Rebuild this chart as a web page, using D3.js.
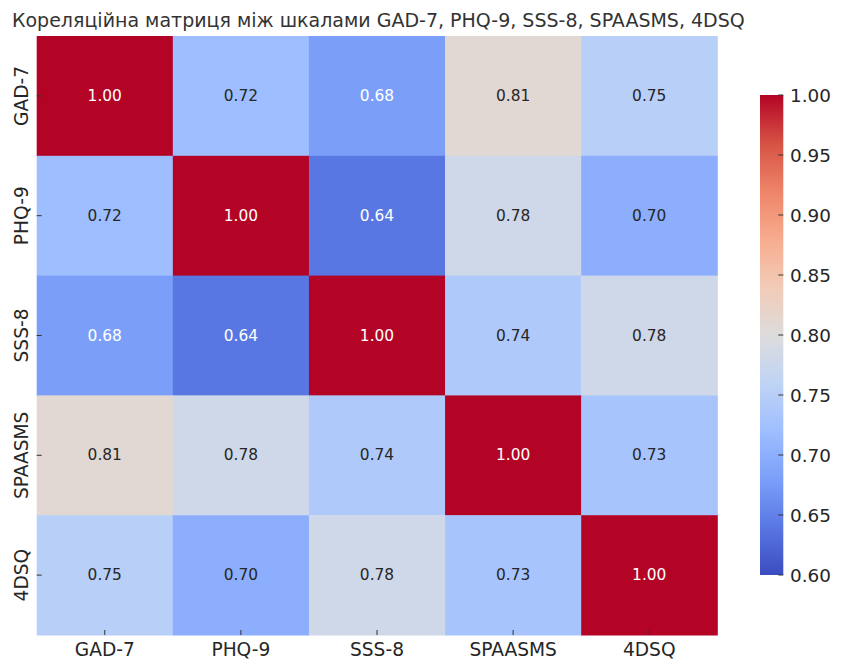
<!DOCTYPE html>
<html>
<head>
<meta charset="utf-8">
<script src="https://cdn.jsdelivr.net/npm/d3@7"></script>
<style>
  body { margin: 0; background: #fff; }
  svg { display: block; font-family: "DejaVu Sans", sans-serif; }
</style>
</head>
<body>
<svg id="chart" width="843" height="671"></svg>
<script>
const title = "Кореляційна матриця між шкалами GAD-7, PHQ-9, SSS-8, SPAASMS, 4DSQ";
const scales = ["GAD-7", "PHQ-9", "SSS-8", "SPAASMS", "4DSQ"];
const rowGAD7   = [1.00, 0.72, 0.68, 0.81, 0.75];
const rowPHQ9   = [0.72, 1.00, 0.64, 0.78, 0.70];
const rowSSS8   = [0.68, 0.64, 1.00, 0.74, 0.78];
const rowSPAASMS= [0.81, 0.78, 0.74, 1.00, 0.73];
const row4DSQ   = [0.75, 0.70, 0.78, 0.73, 1.00];
const matrix = [rowGAD7, rowPHQ9, rowSSS8, rowSPAASMS, row4DSQ];
const colorTicks = [0.60, 0.65, 0.70, 0.75, 0.80, 0.85, 0.90, 0.95, 1.00];
const vmin = 0.6, vmax = 1.0;

// coolwarm colormap samples at 0,0.1,...,1
const coolwarm = ['#3b4cc0','#5977e3','#7b9ff9','#9ebeff','#c0d4f5','#dddcdc','#f2cbb7','#f7ac8e','#ee8468','#d65244','#b40426'];
const cmapInterp = d3.scaleLinear()
  .domain(d3.range(coolwarm.length).map(i => i / (coolwarm.length - 1)))
  .range(coolwarm).interpolate(d3.interpolateRgb).clamp(true);
const norm = d3.scaleLinear().domain([vmin, vmax]).range([0, 1]).clamp(true);
const color = v => cmapInterp(norm(v));

const svg = d3.select("#chart");
const L = 36.7, R = 717.3, T = 36, B = 635;

const x = d3.scaleBand().domain(scales).range([L, R]);
const y = d3.scaleBand().domain(scales).range([T, B]);

// title
svg.append("text").attr("x", 12).attr("y", 26.7)
  .attr("font-size", 19).attr("fill", "#333")
  .text(title);

const cells = [];
matrix.forEach((row, i) => row.forEach((v, j) => cells.push({r: scales[i], c: scales[j], v})));

svg.append("g").selectAll("rect").data(cells).join("rect")
  .attr("x", d => x(d.c)).attr("y", d => y(d.r))
  .attr("width", x.bandwidth() + 0.5).attr("height", y.bandwidth() + 0.5)
  .attr("fill", d => color(d.v));

function lum(c) {
  const rgb = d3.rgb(c);
  const f = u => { u /= 255; return u <= 0.03928 ? u / 12.92 : Math.pow((u + 0.055) / 1.055, 2.4); };
  return 0.2126 * f(rgb.r) + 0.7152 * f(rgb.g) + 0.0722 * f(rgb.b);
}

svg.append("g").selectAll("text").data(cells).join("text")
  .attr("x", d => x(d.c) + x.bandwidth() / 2)
  .attr("y", d => y(d.r) + y.bandwidth() / 2)
  .attr("text-anchor", "middle").attr("dominant-baseline", "central")
  .attr("font-size", 15.4)
  .attr("fill", d => lum(color(d.v)) > 0.408 ? "#262626" : "#ffffff")
  .text(d => d.v.toFixed(2));

// x axis ticks & labels
const xAxis = svg.append("g");
scales.forEach(s => {
  const cx = x(s) + x.bandwidth() / 2;
  xAxis.append("line").attr("x1", cx).attr("x2", cx).attr("y1", B - 5).attr("y2", B)
    .attr("stroke", "#333").attr("stroke-width", 1);
  xAxis.append("text").attr("x", cx).attr("y", B + 20.5)
    .attr("text-anchor", "middle").attr("font-size", 18.6).attr("fill", "#262626").text(s);
});
// y axis ticks & labels
const yAxis = svg.append("g");
scales.forEach(s => {
  const cy = y(s) + y.bandwidth() / 2;
  yAxis.append("line").attr("x1", L).attr("x2", L + 5).attr("y1", cy).attr("y2", cy)
    .attr("stroke", "#333").attr("stroke-width", 1);
  yAxis.append("text").attr("transform", `translate(27.5,${cy}) rotate(-90)`)
    .attr("text-anchor", "middle").attr("font-size", 18.6).attr("fill", "#262626").text(s);
});

// colorbar
const cbL = 760, cbR = 783.3, cbT = 95, cbB = 575;
const defs = svg.append("defs");
const grad = defs.append("linearGradient").attr("id", "cb").attr("x1", 0).attr("y1", 1).attr("x2", 0).attr("y2", 0);
coolwarm.forEach((c, i) => grad.append("stop").attr("offset", i / (coolwarm.length - 1)).attr("stop-color", c));
svg.append("rect").attr("x", cbL).attr("y", cbT).attr("width", cbR - cbL).attr("height", cbB - cbT)
  .attr("fill", "url(#cb)");
const cy = d3.scaleLinear().domain([vmin, vmax]).range([cbB, cbT]);
const cbAxis = svg.append("g");
colorTicks.forEach(t => {
  cbAxis.append("line").attr("x1", cbR - 5).attr("x2", cbR).attr("y1", cy(t)).attr("y2", cy(t))
    .attr("stroke", "#333").attr("stroke-width", 1);
  cbAxis.append("text").attr("x", 790).attr("y", cy(t)).attr("dominant-baseline", "central")
    .attr("font-size", 18.4).attr("fill", "#262626").text(t.toFixed(2));
});
</script>
</body>
</html>
